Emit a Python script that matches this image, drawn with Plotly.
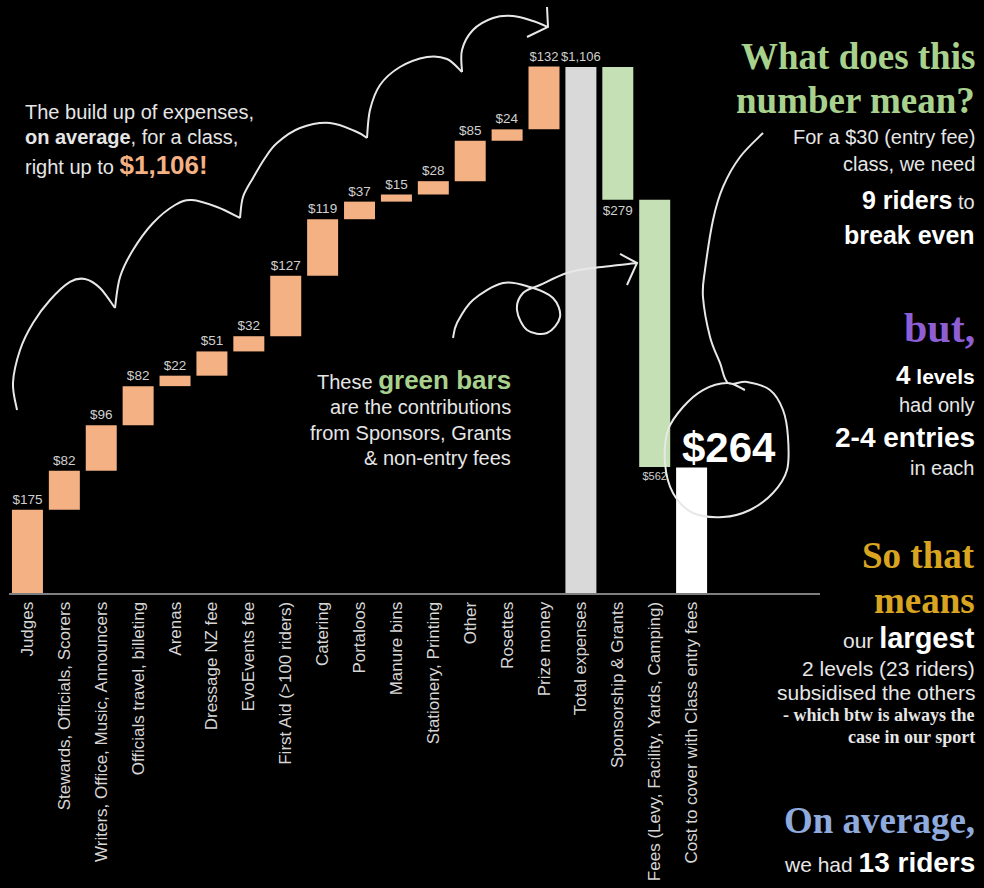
import plotly.graph_objects as go

# ---------------- data ----------------
categories = [
    "Judges", "Stewards, Officials, Scorers", "Writers, Office, Music, Announcers",
    "Officials travel, billeting", "Arenas", "Dressage NZ fee", "EvoEvents fee",
    "First Aid (>100 riders)", "Catering", "Portaloos", "Manure bins",
    "Stationery, Printing", "Other", "Rosettes", "Prize money",
    "Total expenses", "Sponsorship & Grants", "Fees (Levy, Facility, Yards, Camping)",
    "Cost to cover with Class entry fees",
]
expense_values = [175, 82, 96, 82, 22, 51, 32, 127, 119, 37, 15, 28, 85, 24, 132]
total_expenses = 1106
income_values = [279, 562]          # Sponsorship & Grants, Fees
class_entry_cost = 264

ORANGE, GREY, GREEN, WHITE = "#f4b183", "#d9d9d9", "#c5e0b4", "#ffffff"

# ---------------- build waterfall bars ----------------
bases, heights, colors, texts, tsizes = [], [], [], [], []
run = 0
for v in expense_values:
    bases.append(run); heights.append(v); colors.append(ORANGE)
    texts.append(f"${v:,}"); tsizes.append(13.5)
    run += v
bases.append(0); heights.append(total_expenses); colors.append(GREY)
texts.append(f"${total_expenses:,}"); tsizes.append(13)
run = total_expenses
for i, v in enumerate(income_values):
    bases.append(run); heights.append(-v); colors.append(GREEN)
    texts.append(f"${v:,}"); tsizes.append(13.5 if i == 0 else 11)
    run -= v
bases.append(0); heights.append(class_entry_cost); colors.append(WHITE)
texts.append(""); tsizes.append(13)
tsizes[len(expense_values) - 1] = 13

fig = go.Figure(go.Bar(
    x=categories, y=heights, base=bases,
    marker=dict(color=colors, line=dict(width=0)),
    text=texts, textposition="outside", textangle=0, constraintext="none",
    cliponaxis=False,
    textfont=dict(family="Arial, Liberation Sans", size=tsizes, color="#d0d0d0"),
    hoverinfo="skip",
))

W, H = 984, 888
L, R, T, B = 9, 164, 0, 295
PW, PH = W - L - R, H - T - B

fig.update_layout(
    width=W, height=H, margin=dict(l=L, r=R, t=T, b=B, pad=0),
    paper_bgcolor="#000000", plot_bgcolor="#000000",
    showlegend=False, bargap=0.16, hovermode=False,
    font=dict(family="Arial, Liberation Sans", color="#e6e6e6"),
)
fig.update_xaxes(
    type="category", range=[-0.5, 21.48], showline=True, linecolor="#7f7f7f",
    linewidth=2, ticks="", tickangle=-90, showgrid=False, zeroline=False,
    automargin=False, tickfont=dict(size=17, color="#d6d6d6"),
)
fig.update_yaxes(range=[0, 1247], visible=False, automargin=False)


# ---------------- helpers (pixel -> paper) ----------------
def px(x):
    return (x - L) / PW


def py(y):
    return (T + PH - y) / PH


def smooth(pts):
    p = [pts[0]] + pts + [pts[-1]]
    d = f"M{px(pts[0][0]):.4f},{py(pts[0][1]):.4f}"
    for i in range(1, len(p) - 2):
        p0, p1, p2, p3 = p[i - 1], p[i], p[i + 1], p[i + 2]
        c1 = (p1[0] + (p2[0] - p0[0]) / 6, p1[1] + (p2[1] - p0[1]) / 6)
        c2 = (p2[0] - (p3[0] - p1[0]) / 6, p2[1] - (p3[1] - p1[1]) / 6)
        d += (f" C{px(c1[0]):.4f},{py(c1[1]):.4f} {px(c2[0]):.4f},{py(c2[1]):.4f}"
              f" {px(p2[0]):.4f},{py(p2[1]):.4f}")
    return d


def poly(pts):
    return "M" + " L".join(f"{px(a):.4f},{py(b):.4f}" for a, b in pts)


LINE = dict(color="#e8e8e8", width=2)
paths = [
    smooth([(17, 410), (13, 383), (20, 350), (33, 323), (50, 300), (70, 282), (85, 279), (100, 288), (115, 308)]),
    smooth([(115, 308), (120, 277), (133, 250), (153, 223), (175, 205), (192, 200), (217, 207), (240, 218)]),
    smooth([(240, 218), (243, 197), (253, 178), (265, 158), (277, 143), (300, 128), (330, 123), (357, 132), (367, 138)]),
    smooth([(367, 138), (370, 110), (380, 85), (400, 67), (427, 57), (447, 59), (462, 72)]),
    smooth([(462, 72), (462, 50), (473, 30), (493, 18), (513, 16), (533, 21), (548, 27)]),
    poly([(547, 7), (548, 27), (527, 37)]),
    smooth([(453, 338), (457, 323), (473, 300), (503, 283), (530, 287), (553, 298), (560, 317),
            (547, 333), (527, 330), (517, 310), (523, 293), (540, 285), (567, 273), (593, 268), (637, 263)]),
    poly([(620, 254), (637, 263), (627, 285)]),
    smooth([(763, 133), (740, 157), (723, 187), (713, 220), (705, 270), (703, 297), (710, 337),
            (720, 363), (728, 383), (747, 382), (770, 390), (783, 410), (788, 437), (787, 470),
            (773, 493), (750, 510), (723, 517), (693, 513), (673, 493), (665, 463), (668, 430),
            (683, 407), (703, 390), (727, 383), (745, 390)]),
]
for d in paths:
    fig.add_shape(type="path", path=d, xref="paper", yref="paper", line=LINE,
                  fillcolor="rgba(0,0,0,0)", layer="above")

SANS = "Arial, Liberation Sans"
SERIF = "Liberation Serif, Times New Roman, serif"


def ann(text, x, y, size=20, color="#e6e6e6", family=SANS, xanchor="right"):
    fig.add_annotation(text=text, x=px(x), y=py(y), xref="paper", yref="paper",
                       xanchor=xanchor, yanchor="middle", showarrow=False,
                       font=dict(family=family, size=size, color=color), align=xanchor)


# left note
ann("The build up of expenses,", 23, 112, xanchor="left")
ann("<b>on average</b>, for a class,", 23, 137, xanchor="left")
ann("right up to <span style='font-size:26px;color:#f4b183'><b>$1,106!</b></span>", 23, 165, xanchor="left")

# green bar note
ann("These <span style='font-size:26px;color:#a9d18e'><b>green bars</b></span>", 513, 380)
ann("are the contributions", 513, 407)
ann("from Sponsors, Grants", 513, 433)
ann("& non-entry fees", 513, 458)

# $264
ann("<b>$264</b>", 729, 447, size=42, color="#ffffff", xanchor="center")

# right column
RX = 977
ann("<b>What does this</b>", RX, 57, size=37, color="#a9d18e", family=SERIF)
ann("<b>number mean?</b>", RX, 100, size=37, color="#a9d18e", family=SERIF)
ann("For a $30 (entry fee)", RX, 137)
ann("class, we need", RX, 164)
ann("<span style='font-size:25px;color:#ffffff'><b>9 riders</b></span> to", RX, 200)
ann("<b>break even</b>", RX, 235, size=25, color="#ffffff")
ann("<b>but,</b>", RX, 328, size=42, color="#8e5fd4", family=SERIF)
ann("<span style='font-size:26px'><b>4</b></span> <b>levels</b>", RX, 375, size=21, color="#ffffff")
ann("had only", RX, 405)
ann("<b>2-4 entries</b>", RX, 438, size=28, color="#ffffff")
ann("in each", RX, 468)
ann("<b>So that</b>", RX, 555, size=37, color="#d9a521", family=SERIF)
ann("<b>means</b>", RX, 600, size=37, color="#d9a521", family=SERIF)
ann("our <span style='font-size:29px;color:#ffffff'><b>largest</b></span>", RX, 638, size=21)
ann("2 levels (23 riders)", RX, 668, size=21)
ann("subsidised the others", RX, 692, size=21)
ann("<b>- which btw is always the</b>", RX, 715, size=18, family=SERIF)
ann("<b>case in our sport</b>", RX, 737, size=18, family=SERIF)
ann("<b>On average,</b>", RX, 820, size=37, color="#8faadc", family=SERIF)
ann("we had <span style='font-size:28px;color:#ffffff'><b>13 riders</b></span>", RX, 862, size=21)

fig.write_html(
    "out.html",
    config={"displayModeBar": False},
    post_script="document.body.style.margin='0';document.body.style.padding='0';"
                "document.body.style.background='#000';",
)
